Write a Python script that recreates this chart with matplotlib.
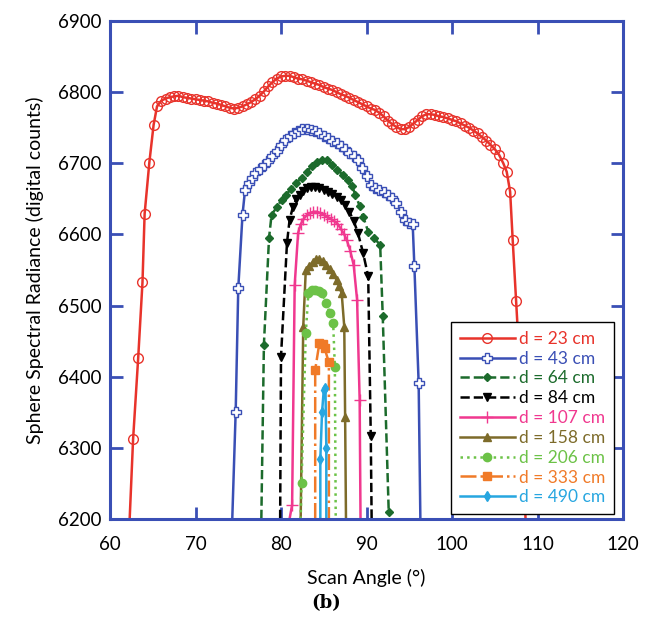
import matplotlib
matplotlib.use("Agg")
import matplotlib.pyplot as plt

# ── Data ──────────────────────────────────────────────────────────────────
x23 = [62.3, 62.7, 63.3, 63.8, 64.05, 64.6, 65.1, 65.5, 66.0, 66.5, 67.0, 67.5, 68.0,
       68.5, 69.0, 69.5, 70.0, 70.5, 71.0, 71.5, 72.0, 72.5, 73.0, 73.5, 74.0, 74.5,
       75.0, 75.5, 76.0, 76.5, 77.0, 77.5, 78.0, 78.5, 79.0, 79.5, 80.0, 80.5, 81.0,
       81.5, 82.0, 82.5, 83.0, 83.5, 84.0, 84.5, 85.0, 85.5, 86.0, 86.5, 87.0, 87.5,
       88.0, 88.5, 89.0, 89.5, 90.0, 90.5, 91.0, 91.5, 92.0, 92.5, 93.0, 93.5, 94.0,
       94.5, 95.0, 95.5, 96.0, 96.5, 97.0, 97.5, 98.0, 98.5, 99.0, 99.5, 100.0, 100.5,
       101.0, 101.5, 102.0, 102.5, 103.0, 103.5, 104.0, 104.5, 105.0, 105.5, 106.0,
       106.4, 106.8, 107.1, 107.5, 107.9, 108.3, 108.6]
y23 = [6200, 6312, 6427, 6533, 6629, 6701, 6754, 6780, 6788, 6791, 6793, 6794, 6795,
       6793, 6792, 6791, 6790, 6789, 6788, 6787, 6785, 6784, 6782, 6780, 6778, 6777,
       6778, 6780, 6783, 6786, 6790, 6795, 6801, 6808, 6814, 6819, 6822, 6823, 6823,
       6821, 6819, 6818, 6816, 6814, 6812, 6810, 6807, 6805, 6803, 6800, 6797, 6795,
       6792, 6789, 6786, 6783, 6780, 6777, 6775, 6771, 6766, 6760, 6755, 6751, 6748,
       6748, 6751, 6756, 6761, 6766, 6769, 6769, 6768, 6766, 6765, 6763, 6761, 6759,
       6756, 6753, 6750, 6746, 6742, 6737, 6732, 6726, 6720, 6712, 6700,
       6688, 6660, 6592, 6506, 6420, 6320, 6200]

x43 = [74.3, 74.7, 75.0, 75.5, 75.8, 76.2, 76.6, 77.0, 77.5, 78.0, 78.5, 79.0, 79.5,
       80.0, 80.5, 81.0, 81.5, 82.0, 82.5, 83.0, 83.5, 84.0, 84.5, 85.0, 85.5, 86.0,
       86.5, 87.0, 87.5, 88.0, 88.5, 89.0, 89.5, 90.0, 90.5, 91.0, 91.5, 92.0, 92.5,
       93.0, 93.5, 94.0, 94.5, 95.0, 95.4, 95.6, 96.1, 96.3]
y43 = [6200, 6351, 6524, 6628, 6663, 6672, 6680, 6686, 6692, 6697, 6703, 6710, 6717,
       6726, 6733, 6739, 6743, 6746, 6748, 6748, 6747, 6745, 6742, 6739, 6736, 6732,
       6728, 6724, 6720, 6715, 6710, 6704, 6694, 6682, 6670, 6665, 6662, 6660, 6656,
       6651, 6644, 6632, 6620, 6616, 6615, 6555, 6391, 6200]

x64 = [77.7, 78.0, 78.6, 78.9, 79.5, 80.1, 80.6, 81.2, 81.8, 82.4, 83.0, 83.6, 84.2,
       84.8, 85.4, 86.0, 86.6, 87.2, 87.8, 88.3, 88.7, 89.2, 89.6, 90.2, 90.9, 91.6,
       91.9, 92.6]
y64 = [6200, 6445, 6595, 6628, 6638, 6649, 6656, 6664, 6672, 6680, 6688, 6696, 6702,
       6705, 6704, 6698, 6691, 6684, 6677, 6668, 6656, 6640, 6625, 6604, 6595, 6585,
       6485, 6210]

x84 = [79.9, 80.0, 80.7, 81.0, 81.4, 81.8, 82.2, 82.6, 83.0, 83.5, 84.0, 84.5, 85.0,
       85.5, 86.0, 86.5, 87.0, 87.5, 88.0, 88.5, 89.0, 89.6, 90.2, 90.5, 90.6]
y84 = [6200, 6428, 6588, 6620, 6639, 6650, 6656, 6661, 6665, 6666, 6666, 6665, 6663,
       6660, 6657, 6653, 6648, 6641, 6632, 6619, 6602, 6574, 6541, 6316, 6200]

x107 = [81.0, 81.3, 81.6, 82.0, 82.3, 82.6, 83.0, 83.4, 83.8, 84.2, 84.6, 85.0, 85.4,
        85.8, 86.2, 86.6, 87.0, 87.4, 87.7, 88.1, 88.5, 88.9, 89.2, 89.3]
y107 = [6200, 6220, 6529, 6602, 6614, 6621, 6627, 6630, 6632, 6632, 6630, 6628, 6625,
        6622, 6619, 6615, 6608, 6600, 6592, 6577, 6557, 6508, 6367, 6200]

x158 = [82.3, 82.6, 82.9, 83.3, 83.7, 84.1, 84.5, 84.9, 85.3, 85.7, 86.1, 86.5, 86.8,
        87.1, 87.4, 87.5, 87.6]
y158 = [6200, 6470, 6550, 6556, 6561, 6566, 6566, 6562, 6557, 6551, 6545, 6536, 6527,
        6517, 6470, 6344, 6200]

x206 = [82.3, 82.4, 82.9, 83.2, 83.6, 84.0, 84.4, 84.8, 85.3, 85.7, 86.1, 86.3, 86.4]
y206 = [6200, 6250, 6461, 6518, 6522, 6522, 6520, 6517, 6503, 6490, 6475, 6414, 6200]

x333 = [84.0, 84.0, 84.5, 84.9, 85.1, 85.6, 85.6]
y333 = [6200, 6410, 6448, 6446, 6440, 6420, 6200]

x490 = [84.6, 84.6, 84.8, 85.0, 85.2, 85.3, 85.3]
y490 = [6200, 6285, 6350, 6381, 6384, 6300, 6200]

labels = ["d = 23 cm", "d = 43 cm", "d = 64 cm", "d = 84 cm", "d = 107 cm",
          "d = 158 cm", "d = 206 cm", "d = 333 cm", "d = 490 cm"]

plt.rcParams["font.family"] = ["Lato", "DejaVu Sans"]

fig = plt.figure(figsize=(6.52, 6.27), dpi=100)
ax = fig.add_axes([110 / 652, 108 / 627, 513 / 652, 498 / 627])

SPINE = "#3a4fb5"
series = [
    (x23, y23, dict(color="#e8332b", ls="-", marker="o", ms=7, mfc="none", mew=1.0)),
    (x43, y43, dict(color="#3a4fb5", ls="-", marker="P", ms=7, mfc="white", mew=1.0)),
    (x64, y64, dict(color="#1c6b2c", ls="--", marker="D", ms=4.5)),
    (x84, y84, dict(color="black", ls="--", marker="v", ms=6)),
    (x107, y107, dict(color="#f0388f", ls="-", marker="+", ms=8, mew=1.0)),
    (x158, y158, dict(color="#7d6b2a", ls="-", marker="^", ms=6)),
    (x206, y206, dict(color="#6cc247", ls=":", marker="o", ms=6)),
    (x333, y333, dict(color="#f07a28", ls="-.", marker="s", ms=6)),
    (x490, y490, dict(color="#27a6e0", ls="-", marker="d", ms=5)),
]
for (xs, ys, kw), lab in zip(series, labels):
    # no marker where the curve runs into the bottom of the frame
    keep = [i for i, v in enumerate(ys) if v > 6200]
    ax.plot(xs, ys, lw=1.8, label=lab, markevery=keep, **kw)

ax.set_xlim(60, 120)
ax.set_ylim(6200, 6900)
ax.set_xticks(range(60, 121, 10))
ax.set_yticks(range(6200, 6901, 100))
ax.set_xticklabels(["60", "70", "80", "90", "100", "110", "120"])
for s in ax.spines.values():
    s.set_color(SPINE)
    s.set_linewidth(2.2)
ax.tick_params(direction="in", length=9, width=2, color=SPINE, top=True, right=True,
               labelsize=13.5, pad=6)
ax.tick_params(axis="x", pad=12)
ax.set_xlabel("Scan Angle (°)", fontsize=14, labelpad=12)
ax.set_ylabel("Sphere Spectral Radiance (digital counts)", fontsize=14, labelpad=10)

leg = ax.legend(loc="lower right", bbox_to_anchor=(0.982, 0.01), fontsize=12.5,
                frameon=True, fancybox=False, edgecolor="black", framealpha=1,
                labelspacing=0.22, handlelength=3.2, handletextpad=0.2,
                borderpad=0.5, borderaxespad=0)
leg.get_frame().set_linewidth(1.0)
for txt, h in zip(leg.get_texts(), leg.get_lines()):
    txt.set_color(h.get_color())

fig.text(0.5, 1 - 603 / 627, "(b)", ha="center", va="center", fontsize=13,
         fontweight="bold", family="DejaVu Serif")

fig.savefig("out.png", dpi=100)
